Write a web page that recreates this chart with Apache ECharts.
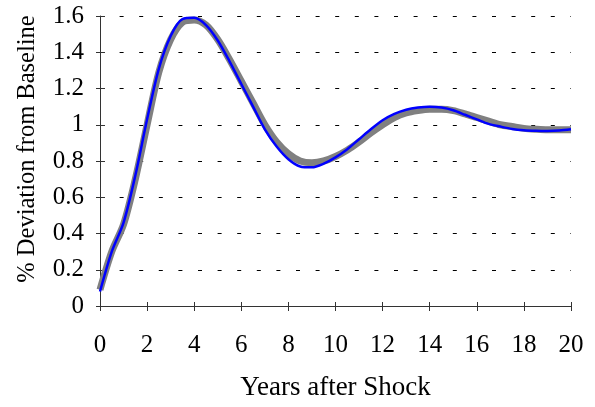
<!DOCTYPE html>
<html>
<head>
<meta charset="utf-8">
<script src="https://cdn.jsdelivr.net/npm/echarts@6/dist/echarts.min.js"></script>
<style>
  html, body { margin: 0; padding: 0; background: #fff; }
  #chart { width: 595px; height: 407px; }
</style>
</head>
<body>
<div id="chart"></div>
<script>
// Years after the shock (half-year steps)
const years = [0, 0.5, 1, 1.5, 2, 2.5, 3, 3.5, 4, 4.5, 5, 5.5, 6, 6.5, 7, 7.5, 8, 8.5, 9, 9.5,
  10, 10.5, 11, 11.5, 12, 12.5, 13, 13.5, 14, 14.5, 15, 15.5, 16, 16.5, 17, 17.5, 18, 18.5, 19, 19.5, 20];

// Thick grey response (% deviation from baseline)
const greyResponse = [0.09, 0.30, 0.45, 0.70, 1.00, 1.29, 1.47, 1.565, 1.578, 1.55, 1.47, 1.36, 1.24, 1.12,
  1.00, 0.905, 0.84, 0.80, 0.79, 0.80, 0.825, 0.86, 0.905, 0.955, 1.00, 1.04, 1.065, 1.078, 1.085,
  1.085, 1.078, 1.06, 1.04, 1.02, 1.00, 0.99, 0.98, 0.975, 0.972, 0.972, 0.972];

// Thin blue response (% deviation from baseline)
const blueResponse = [0.08, 0.30, 0.46, 0.72, 1.03, 1.31, 1.49, 1.583, 1.59, 1.55, 1.465, 1.35, 1.225,
  1.10, 0.975, 0.88, 0.81, 0.77, 0.765, 0.785, 0.82, 0.865, 0.92, 0.975, 1.025, 1.06, 1.083, 1.095,
  1.10, 1.095, 1.08, 1.055, 1.03, 1.005, 0.99, 0.977, 0.97, 0.967, 0.966, 0.968, 0.975];

const xTicks = { min: 0, max: 20, interval: 2 };
const yTicks = { min: 0, max: 1.6, interval: 0.2 };

const font = 'Liberation Serif, Times New Roman, serif';
const axisColor = '#333';

const pairs = (xs, ys) => xs.map((x, i) => [x, ys[i]]);

const chart = echarts.init(document.getElementById('chart'), null, { renderer: 'canvas' });

chart.setOption({
  animation: false,
  backgroundColor: '#fff',
  grid: { left: 100, right: 24, top: 16, bottom: 101, containLabel: false },
  xAxis: [
    {
      type: 'value', position: 'bottom', ...xTicks,
      name: 'Years after Shock', nameLocation: 'middle', nameGap: 68,
      nameTextStyle: { fontFamily: font, fontSize: 27, color: '#000' },
      axisLine: { lineStyle: { color: axisColor, width: 1 } },
      axisTick: { show: true, inside: false, length: 5, lineStyle: { color: axisColor } },
      axisLabel: { fontFamily: font, fontSize: 25, color: '#000', margin: 27 },
      splitLine: { show: false }
    },
    {
      type: 'value', position: 'bottom', ...xTicks,
      axisLine: { show: false },
      axisTick: { show: true, inside: true, length: 4, lineStyle: { color: axisColor } },
      axisLabel: { show: false },
      splitLine: { show: false }
    }
  ],
  yAxis: [
    {
      type: 'value', position: 'left', ...yTicks,
      name: '% Deviation from Baseline', nameLocation: 'middle', nameGap: 60,
      nameTextStyle: { fontFamily: font, fontSize: 24.5, color: '#000', padding: [0, 0, 0, 24] },
      axisLine: { show: true, lineStyle: { color: axisColor, width: 1 } },
      axisTick: { show: true, inside: false, length: 4, lineStyle: { color: axisColor } },
      axisLabel: {
        fontFamily: font, fontSize: 25, color: '#000', margin: 16, padding: [5, 0, 0, 0],
        formatter: v => String(Math.round(v * 10) / 10)
      },
      splitLine: { show: true, lineStyle: { color: '#000', width: 1, type: [4, 15.6] } }
    },
    {
      type: 'value', position: 'left', ...yTicks,
      axisLine: { show: false },
      axisTick: { show: true, inside: true, length: 5, lineStyle: { color: axisColor } },
      axisLabel: { show: false },
      splitLine: { show: false }
    }
  ],
  series: [
    {
      name: 'grey', type: 'line', xAxisIndex: 0, yAxisIndex: 0,
      data: pairs(years, greyResponse),
      showSymbol: false, smooth: 0.3,
      lineStyle: { color: '#808080', width: 7, join: 'bevel' }
    },
    {
      name: 'blue', type: 'line', xAxisIndex: 0, yAxisIndex: 0,
      data: pairs(years, blueResponse),
      showSymbol: false, smooth: 0.3,
      lineStyle: { color: '#0000ff', width: 2.5 }
    }
  ]
});
</script>
</body>
</html>
